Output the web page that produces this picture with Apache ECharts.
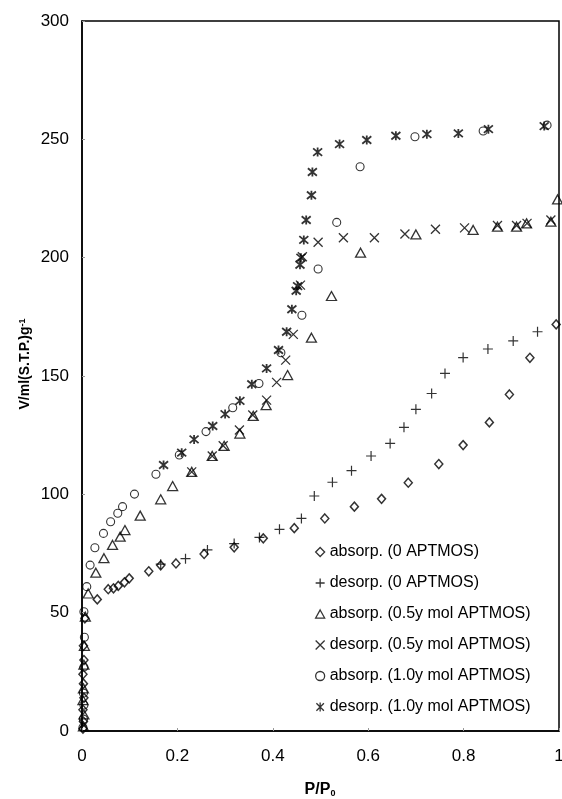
<!DOCTYPE html>
<html>
<head>
<meta charset="utf-8">
<script src="https://cdn.jsdelivr.net/npm/echarts@6/dist/echarts.min.js"></script>
<style>
  html, body { margin: 0; padding: 0; background: #fff; }
  #isotherm { width: 562px; height: 799px; }
</style>
</head>
<body>
<div id="isotherm"></div>
<script>
// nitrogen isotherms, P/P0 vs adsorbed volume

var xTicks = [0, 0.2, 0.4, 0.6, 0.8, 1];
var yTicks = [0, 50, 100, 150, 200, 250, 300];

var seriesNames = [
    'absorp. (0 APTMOS)',
    'desorp. (0 APTMOS)',
    'absorp. (0.5y mol APTMOS)',
    'desorp. (0.5y mol APTMOS)',
    'absorp. (1.0y mol APTMOS)',
    'desorp. (1.0y mol APTMOS)'
];

var absorp0 = [
    [0.002, 1], [0.003, 4], [0.002, 9], [0.004, 14], [0.003, 20], [0.002, 24],
    [0.004, 30], [0.003, 36], [0.006, 47.6], [0.032, 55.6], [0.055, 59.9],
    [0.066, 60.3], [0.076, 61.3], [0.089, 62.8], [0.099, 64.5], [0.140, 67.5],
    [0.165, 70], [0.197, 70.8], [0.256, 74.8], [0.319, 77.6], [0.380, 81.4],
    [0.445, 85.7], [0.509, 89.8], [0.571, 94.8], [0.628, 98.1], [0.684, 104.9],
    [0.748, 112.8], [0.799, 120.8], [0.854, 130.4], [0.896, 142.2], [0.939, 157.7],
    [0.994, 171.8]
];

var desorp0 = [
    [0.955, 168.7], [0.904, 164.8], [0.851, 161.4], [0.799, 157.8], [0.761, 151.1],
    [0.733, 142.6], [0.700, 135.9], [0.675, 128.3], [0.646, 121.5], [0.606, 116.2],
    [0.565, 110], [0.525, 105.1], [0.487, 99.3], [0.460, 89.8], [0.414, 85.2],
    [0.372, 81.8], [0.319, 79.2], [0.263, 76.5], [0.217, 72.8], [0.165, 70.5]
];

var absorp05 = [
    [0.003, 2], [0.004, 7], [0.002, 13], [0.003, 18], [0.004, 28], [0.005, 36],
    [0.007, 48.3], [0.013, 58.1], [0.029, 66.9], [0.046, 73], [0.064, 78.6],
    [0.080, 82.1], [0.090, 84.9], [0.122, 91], [0.165, 97.9], [0.190, 103.5],
    [0.230, 109.5], [0.273, 116.2], [0.298, 120.5], [0.331, 125.7], [0.359, 133.2],
    [0.386, 137.7], [0.431, 150.4], [0.481, 166.2], [0.523, 183.8], [0.584, 202.1],
    [0.700, 209.8], [0.820, 211.7], [0.871, 213.1], [0.911, 213.1], [0.932, 214.5],
    [0.983, 215.2], [0.997, 224.6]
];

var desorp05 = [
    [0.983, 215.9], [0.933, 214.5], [0.911, 213.6], [0.871, 213.6], [0.802, 212.6],
    [0.741, 212], [0.677, 210], [0.613, 208.4], [0.548, 208.4], [0.495, 206.5],
    [0.462, 200.4], [0.458, 188.4], [0.443, 167.6], [0.427, 156.7], [0.408, 147.3],
    [0.387, 139.8], [0.358, 133.5], [0.330, 127.2], [0.296, 120.5], [0.273, 116.2],
    [0.230, 109.5]
];

var absorp10 = [
    [0.002, 1.5], [0.003, 5], [0.004, 11], [0.003, 16], [0.004, 27], [0.005, 39.6],
    [0.004, 50.4], [0.010, 61], [0.017, 70.1], [0.027, 77.4], [0.045, 83.5],
    [0.060, 88.4], [0.075, 92], [0.085, 94.8], [0.110, 100.1], [0.155, 108.5],
    [0.204, 116.6], [0.260, 126.5], [0.316, 136.6], [0.371, 146.8], [0.417, 159.8],
    [0.461, 175.7], [0.495, 195.2], [0.534, 214.9], [0.583, 238.4], [0.698, 251.1],
    [0.841, 253.5], [0.975, 256]
];

var desorp10 = [
    [0.969, 255.6], [0.852, 254.3], [0.789, 252.5], [0.723, 252.2], [0.658, 251.5],
    [0.597, 249.7], [0.540, 248], [0.494, 244.6], [0.483, 236.2], [0.481, 226.4],
    [0.470, 215.9], [0.465, 207.5], [0.459, 200], [0.457, 197], [0.452, 188],
    [0.449, 186], [0.440, 178.2], [0.429, 168.7], [0.412, 161], [0.387, 153.2],
    [0.356, 146.5], [0.331, 139.5], [0.300, 133.9], [0.274, 128.9], [0.235, 123.2],
    [0.209, 117.6], [0.171, 112.4]
];

var font = 'Liberation Sans, Arial, sans-serif';

// open marker shapes, stroked only
var marks = [
    { symbol: 'path://M5,0 L10,5 L5,10 L0,5 Z', size: [8, 9], width: 1.5 },
    { symbol: 'path://M5,0 L5,10 M0,5 L10,5', size: 10, width: 1.2 },
    { symbol: 'path://M5,0 L10,9 L0,9 Z', size: [10, 9], width: 1.3 },
    { symbol: 'path://M0,0 L10,10 M10,0 L0,10', size: 9, width: 1.3 },
    { symbol: 'circle', size: 8, width: 1.1 },
    { symbol: 'path://M0,0 L10,10 M10,0 L0,10 M5,-1 L5,11', size: 9, width: 1.8 }
];

var allData = [absorp0, desorp0, absorp05, desorp05, absorp10, desorp10];

var series = allData.map(function (d, i) {
    return {
        name: seriesNames[i],
        type: 'scatter',
        data: d,
        symbol: marks[i].symbol,
        symbolSize: marks[i].size,
        itemStyle: {
            color: 'transparent',
            borderColor: '#000',
            borderWidth: marks[i].width
        },
        emphasis: { disabled: true }
    };
});

var option = {
    animation: false,
    grid: {
        left: 82,
        right: 3,
        top: 21,
        bottom: 68,
        show: true,
        borderColor: '#000',
        borderWidth: 1.5,
        outerBoundsMode: 'none'
    },
    legend: {
        orient: 'vertical',
        left: 310,
        top: 538,
        itemWidth: 9,
        itemHeight: 9,
        itemGap: 13,
        data: seriesNames,
        itemStyle: {
            color: 'transparent',
            borderColor: '#000',
            borderWidth: 1.3
        },
        textStyle: {
            color: '#000',
            fontSize: 16,
            lineHeight: 18,
            fontFamily: font
        }
    },
    xAxis: {
        type: 'value',
        min: xTicks[0],
        max: xTicks[xTicks.length - 1],
        interval: 0.2,
        axisLine: { lineStyle: { color: '#000', width: 1.5 } },
        axisTick: { inside: true, length: 3, lineStyle: { color: '#999' } },
        axisLabel: { color: '#000', fontSize: 17, fontFamily: font, margin: 17 },
        splitLine: { show: false }
    },
    yAxis: {
        type: 'value',
        min: yTicks[0],
        max: yTicks[yTicks.length - 1],
        interval: 50,
        axisLine: { show: true, lineStyle: { color: '#000', width: 1.5 } },
        axisTick: { show: true, inside: true, length: 3, lineStyle: { color: '#999' } },
        axisLabel: { color: '#000', fontSize: 17, fontFamily: font, margin: 13 },
        splitLine: { show: false }
    },
    graphic: [
        {
            type: 'text',
            x: 25,
            y: 364,
            rotation: Math.PI / 2,
            style: {
                text: '{a|V/ml(S.T.P.)g}{b|-1}',
                align: 'center',
                verticalAlign: 'middle',
                fill: '#000',
                rich: {
                    a: { fontSize: 14, fontWeight: 'bold', fontFamily: font, fill: '#000' },
                    b: { fontSize: 9, fontWeight: 'bold', fontFamily: font, fill: '#000', verticalAlign: 'top' }
                }
            }
        },
        {
            type: 'text',
            x: 320,
            y: 790,
            style: {
                text: '{a|P/P}{b|0}',
                align: 'center',
                verticalAlign: 'middle',
                fill: '#000',
                rich: {
                    a: { fontSize: 16, fontWeight: 'bold', fontFamily: font, fill: '#000' },
                    b: { fontSize: 9, fontWeight: 'bold', fontFamily: font, fill: '#000', verticalAlign: 'bottom' }
                }
            }
        }
    ],
    series: series
};

var myChart = echarts.init(document.getElementById('isotherm'));
myChart.setOption(option);
</script>
</body>
</html>
